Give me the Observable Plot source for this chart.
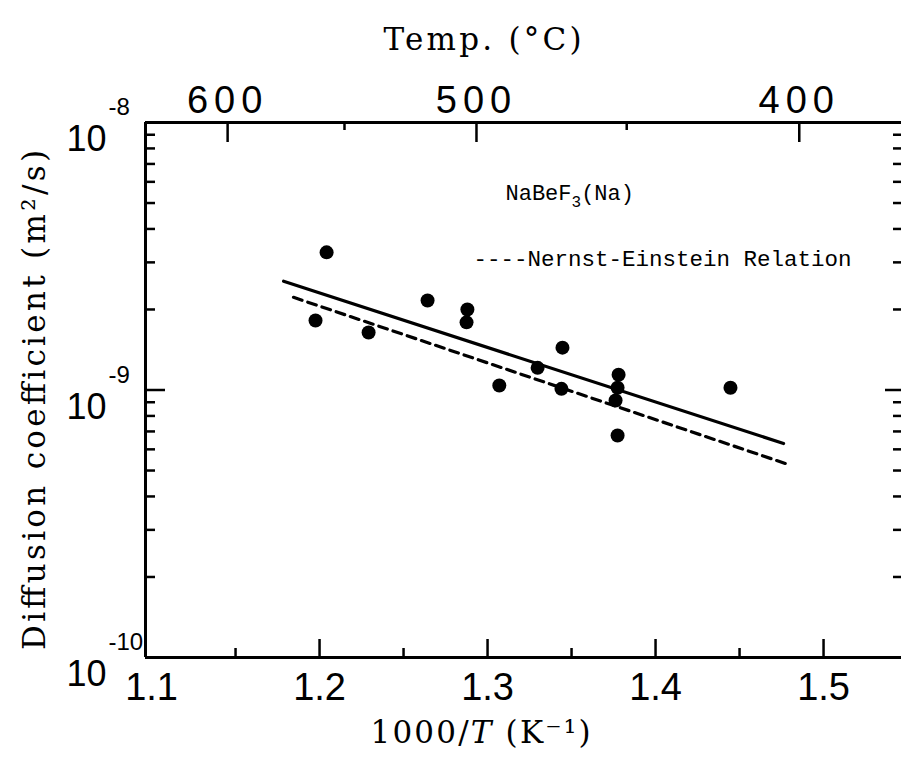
<!DOCTYPE html>
<html><head><meta charset="utf-8">
<script src="https://cdn.jsdelivr.net/npm/d3@7"></script>
<script src="https://cdn.jsdelivr.net/npm/@observablehq/plot@0.6"></script>
<style>html,body{margin:0;padding:0;background:#fff;overflow:hidden} svg{display:block}</style>
</head><body><div id="chart"></div>
<script>
// measured points: 1000/T (K^-1) and diffusion coefficient (m^2/s)
const invT = [1.1976, 1.2042, 1.2292, 1.2643, 1.2880, 1.2875, 1.3070, 1.3298, 1.3446, 1.3440, 1.3780, 1.3774, 1.3762, 1.3774, 1.4446];
const diff = [1.82e-9, 3.27e-9, 1.64e-9, 2.16e-9, 2.00e-9, 1.79e-9, 1.04e-9, 1.21e-9, 1.44e-9, 1.01e-9, 1.14e-9, 1.02e-9, 0.914e-9, 0.676e-9, 1.02e-9];
// fitted (solid) line and Nernst-Einstein (dashed) line end points
const fitX = [1.1786, 1.4762];
const fitD = [2.55e-9, 6.31e-10];
const neX = [1.1845, 1.4774];
const neD = [2.22e-9, 5.31e-10];
// axes
const xDomain = [1.0964, 1.5464];
const yDomain = [1e-10, 1e-8];
const xTicks = [1.1, 1.2, 1.3, 1.4, 1.5];
const xMinor = [1.15, 1.25, 1.35, 1.45];
const tempTicks = [600, 500, 400];
const tempMinor = [550, 450];
const yMajor = [1e-8, 1e-9, 1e-10];
const yExp = ["-8", "-9", "-10"];
const yMinor = [2e-10, 3e-10, 4e-10, 5e-10, 6e-10, 7e-10, 8e-10, 9e-10, 2e-9, 3e-9, 4e-9, 5e-9, 6e-9, 7e-9, 8e-9, 9e-9];
const topTitle = "Temp. (°C)";
const xTitle = "1000/T (K⁻¹)";
const yTitle = "Diffusion coefficient (m²/s)";
const label1 = "NaBeF3(Na)";
const label2 = "----Nernst-Einstein Relation";

const W = 901, H = 762, ML = 145, MR = 0, MT = 122, MB = 105;
const PW = W - ML - MR, PH = H - MT - MB;
const toInvT = c => 1000 / (c + 273.15);
const pts = invT.map((x, i) => ({x, y: diff[i]}));
const fit = fitX.map((x, i) => ({x, y: fitD[i]}));
const ne = neX.map((x, i) => ({x, y: neD[i]}));
const serif = "DejaVu Serif, serif";
const sans = "Liberation Sans, Arial, sans-serif";
const narrow = "Liberation Sans Narrow, Liberation Sans, Arial, sans-serif";
const mono = "Liberation Mono, Courier New, monospace";

const chart = Plot.plot({
  width: W, height: H,
  marginLeft: ML, marginRight: MR, marginTop: MT, marginBottom: MB,
  style: {background: "#fff", color: "#000", overflow: "hidden"},
  x: {domain: xDomain, axis: null},
  y: {type: "log", domain: yDomain, axis: null},
  marks: [
    Plot.ruleX(xDomain.slice(0, 1), {stroke: "#000", strokeWidth: 3}),
    Plot.ruleY(yDomain, {stroke: "#000", strokeWidth: 3}),
    // bottom ticks (inward)
    Plot.tickX(xTicks.filter(v => v > 1.15), {x: d => d, insetTop: PH - 18, stroke: "#000", strokeWidth: 2.5}),
    Plot.tickX(xMinor, {x: d => d, insetTop: PH - 9, stroke: "#000", strokeWidth: 2.5}),
    // top temperature ticks
    Plot.tickX(tempTicks, {x: toInvT, insetBottom: PH - 20, stroke: "#000", strokeWidth: 2.5}),
    Plot.tickX(tempMinor, {x: toInvT, insetBottom: PH - 8, stroke: "#000", strokeWidth: 2.5}),
    // left ticks
    Plot.tickY(yMajor, {y: d => d, insetRight: PW - 20, stroke: "#000", strokeWidth: 2.5}),
    Plot.tickY(yMinor, {y: d => d, insetRight: PW - 10, stroke: "#000", strokeWidth: 2.5}),
    // right ticks
    Plot.tickY(yMajor, {y: d => d, insetLeft: PW - 16, stroke: "#000", strokeWidth: 2.5}),
    Plot.tickY(yMinor, {y: d => d, insetLeft: PW - 8, stroke: "#000", strokeWidth: 2.5}),
    // tick labels
    Plot.text(xTicks, {x: d => d, text: d => String(d), frameAnchor: "bottom", lineAnchor: "middle", dy: 30, fontSize: 38, fontFamily: narrow}),
    Plot.text(tempTicks, {x: toInvT, text: d => String(d), frameAnchor: "top", lineAnchor: "middle", dy: -22, fontSize: 38, fontFamily: sans}),
    Plot.text(yMajor, {y: d => d, text: () => "10", frameAnchor: "left", textAnchor: "end", lineAnchor: "middle", dx: -39, dy: 17, fontSize: 36, fontFamily: narrow}),
    Plot.text(yMajor, {y: d => d, text: (d, i) => yExp[i], frameAnchor: "left", textAnchor: "start", lineAnchor: "middle", dx: -37, dy: -15, fontSize: 24, fontFamily: sans}),
    // titles
    Plot.text([topTitle], {text: d => d, frameAnchor: "top", textAnchor: "middle", lineAnchor: "middle", dx: -41, dy: -82, fontSize: 31, fontFamily: serif}),
    Plot.text([xTitle], {text: d => d, frameAnchor: "bottom", textAnchor: "middle", lineAnchor: "middle", dx: -43, dy: 76, fontSize: 31, fontFamily: serif}),
    Plot.text([yTitle], {text: d => d, frameAnchor: "left", textAnchor: "middle", lineAnchor: "middle", dx: -110, dy: 10, rotate: -90, fontSize: 31, fontFamily: serif}),
    // annotations
    Plot.text([label1], {text: d => d, frameAnchor: "top-left", textAnchor: "start", lineAnchor: "middle", dx: 360, dy: 70, fontSize: 22, fontFamily: mono}),
    Plot.text([label2], {text: d => d, frameAnchor: "top-left", textAnchor: "start", lineAnchor: "middle", dx: 328, dy: 136, fontSize: 22.5, fontFamily: mono}),
    // data
    Plot.line(fit, {x: "x", y: "y", stroke: "#000", strokeWidth: 3.2}),
    Plot.line(ne, {x: "x", y: "y", stroke: "#000", strokeWidth: 3.2, strokeDasharray: "9,6"}),
    Plot.dot(pts, {x: "x", y: "y", r: 7, fill: "#000", stroke: "none"})
  ]
});

// rich text (subscript / italic) and spacing
const tempLabels = tempTicks.map(String);
d3.select(chart).selectAll("text").each(function () {
  const s = d3.select(this);
  const t = this.textContent;
  if (t === label1) {
    s.text(null);
    s.append("tspan").text("NaBeF");
    s.append("tspan").attr("dy", 7).attr("font-size", 16).text("3");
    s.append("tspan").attr("dy", -7).text("(Na)");
  } else if (t === xTitle) {
    s.text(null);
    s.append("tspan").text("1000/");
    s.append("tspan").attr("font-style", "italic").text("T");
    s.append("tspan").text(" (K⁻¹)");
    s.attr("textLength", 220);
  } else if (t === yTitle) {
    s.attr("textLength", 500);
  } else if (t === topTitle) {
    s.attr("textLength", 198);
  } else if (tempLabels.includes(t)) {
    s.attr("letter-spacing", 6);
  }
});
document.getElementById("chart").appendChild(chart);
</script>
</body></html>
